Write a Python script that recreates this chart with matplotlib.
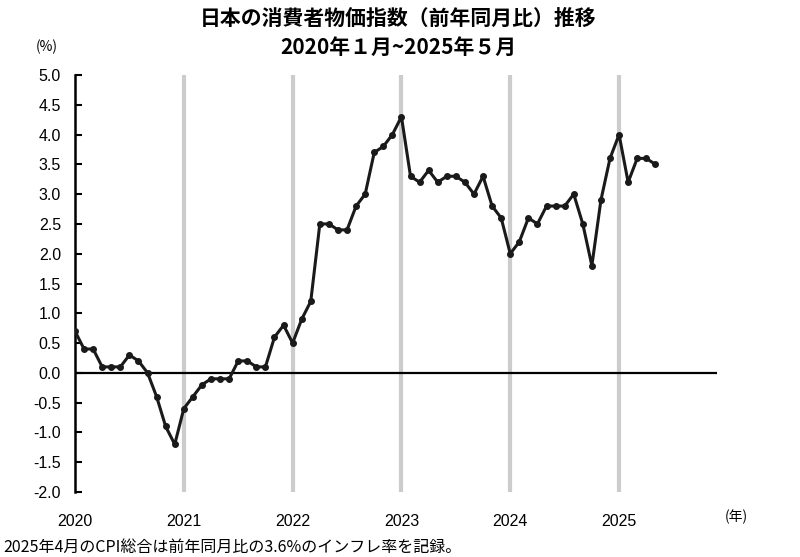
import matplotlib
matplotlib.use("Agg")
import matplotlib.pyplot as plt
import numpy as np

plt.rcParams['font.family'] = ['Noto Sans CJK JP', 'DejaVu Sans']

cpi_2020 = [0.7, 0.4, 0.4, 0.1, 0.1, 0.1, 0.3, 0.2, 0.0, -0.4, -0.9, -1.2]
cpi_2021 = [-0.6, -0.4, -0.2, -0.1, -0.1, -0.1, 0.2, 0.2, 0.1, 0.1, 0.6, 0.8]
cpi_2022 = [0.5, 0.9, 1.2, 2.5, 2.5, 2.4, 2.4, 2.8, 3.0, 3.7, 3.8, 4.0]
cpi_2023 = [4.3, 3.3, 3.2, 3.4, 3.2, 3.3, 3.3, 3.2, 3.0, 3.3, 2.8, 2.6]
cpi_2024 = [2.0, 2.2, 2.6, 2.5, 2.8, 2.8, 2.8, 3.0, 2.5, 1.8, 2.9, 3.6]
cpi_2025 = [4.0, 3.2, 3.6, 3.6, 3.5]
years = ['2020', '2021', '2022', '2023', '2024', '2025']
yticks = [-2.0, -1.5, -1.0, -0.5, 0.0, 0.5, 1.0, 1.5, 2.0, 2.5, 3.0, 3.5, 4.0, 4.5, 5.0]

values = cpi_2020 + cpi_2021 + cpi_2022 + cpi_2023 + cpi_2024 + cpi_2025
x = np.arange(len(values))

fig = plt.figure(figsize=(8, 5.57), dpi=100)
ax = fig.add_axes([75/800, 1-492/557, (717-75)/800, (492-75)/557])
ax.set_xlim(0, 70.8)
ax.set_ylim(-2.0, 5.0)

for i in range(1, len(years)):
    ax.axvline(12*i, color='#cccccc', lw=3, zorder=1)
ax.axhline(0, color='black', lw=1.6, zorder=2)
ax.plot(x, values, color='#1a1a1a', lw=2.2, marker='o', ms=4, zorder=3)

ax.set_yticks(yticks)
ax.set_yticklabels([f"{v:.1f}" for v in yticks], fontsize=11.5, family='Liberation Sans')
ax.set_xticks([12*i for i in range(len(years))])
ax.set_xticklabels(years, fontsize=11.5, family='Liberation Sans')
ax.tick_params(axis='x', length=0, pad=16)
ax.tick_params(axis='y', direction='in', length=5, width=1.5, pad=10)
for s in ['top', 'right', 'bottom']:
    ax.spines[s].set_visible(False)
ax.spines['left'].set_linewidth(1.8)

fig.text(725/800, 1-517/557, '(年)', fontsize=10, ha='left', va='center')
fig.text(47/800, 1-47/557, '(%)', fontsize=10, ha='center', va='center')
fig.text(398/800, 1-18/557, '日本の消費者物価指数（前年同月比）推移', fontsize=15,
         fontweight='bold', ha='center', va='center')
fig.text(398/800, 1-47/557, '2020年１月~2025年５月', fontsize=15,
         fontweight='bold', ha='center', va='center')
fig.text(3/800, 1-547/557, '2025年4月のCPI総合は前年同月比の3.6%のインフレ率を記録。',
         fontsize=11.5, ha='left', va='center')

fig.savefig('out.png', dpi=100)
